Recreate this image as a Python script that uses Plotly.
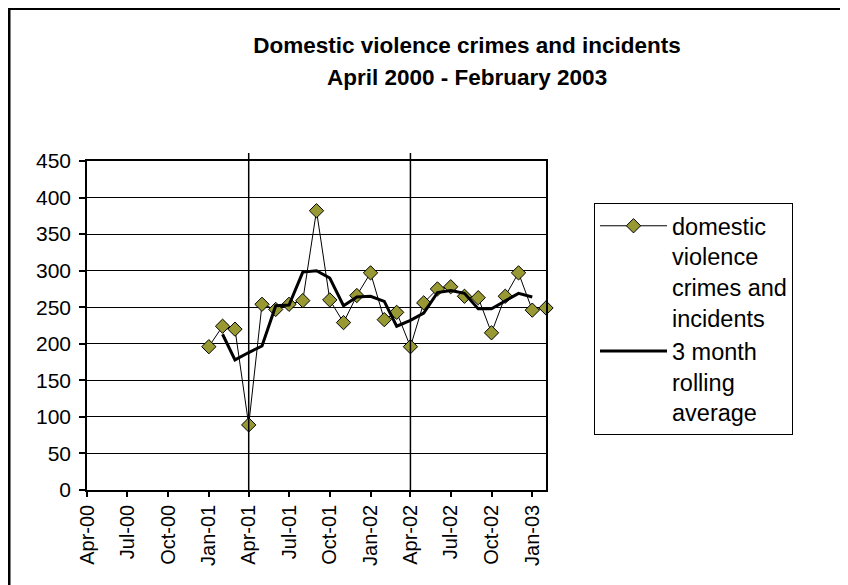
import plotly.graph_objects as go

# ---- data ----
months = ["2001-01-01", "2001-02-01", "2001-03-01", "2001-04-01", "2001-05-01", "2001-06-01",
          "2001-07-01", "2001-08-01", "2001-09-01", "2001-10-01", "2001-11-01", "2001-12-01",
          "2002-01-01", "2002-02-01", "2002-03-01", "2002-04-01", "2002-05-01", "2002-06-01",
          "2002-07-01", "2002-08-01", "2002-09-01", "2002-10-01", "2002-11-01", "2002-12-01",
          "2003-01-01", "2003-02-01"]
incidents = [196, 224, 220, 89, 254, 247, 254, 259, 382, 260, 229, 266,
             297, 233, 243, 196, 256, 275, 278, 265, 263, 215, 265, 297,
             246, 249]

avg_months = months[1:-1]
rolling_avg = [213, 178, 188, 197, 252, 253, 298, 300, 290, 252, 264, 265,
               258, 224, 232, 242, 270, 273, 269, 248, 248, 259, 269, 264]

tick_dates = ["2000-04-01", "2000-07-01", "2000-10-01", "2001-01-01", "2001-04-01", "2001-07-01",
              "2001-10-01", "2002-01-01", "2002-04-01", "2002-07-01", "2002-10-01", "2003-01-01"]
tick_labels = ["Apr-00", "Jul-00", "Oct-00", "Jan-01", "Apr-01", "Jul-01",
               "Oct-01", "Jan-02", "Apr-02", "Jul-02", "Oct-02", "Jan-03"]
divider_dates = ["2001-04-01", "2002-04-01"]

title_line1 = "Domestic violence crimes and incidents"
title_line2 = "April 2000 - February 2003"
series1_name = "domestic<br>violence<br>crimes and<br>incidents"
series2_name = "3 month<br>rolling<br>average"

# ---- layout geometry (page pixels; the page body adds an 8px offset) ----
OFF = 8
W, H = 848, 585
PL, PR, PT, PB = 87, 546, 161, 490   # plot area edges on the page
FW, FH = W - OFF, H - OFF            # figure size
L, T = PL - OFF, PT - OFF
R, B = FW - (PR - OFF), FH - (PB - OFF)
PW = PR - PL
PH = PB - PT


def px_x(p):
    return (p - PL) / PW


def px_y(p):
    return (PB - p) / PH


def cont_y(p):
    return 1 - (p - OFF) / FH


FONT = "Liberation Sans, Arial, sans-serif"

fig = go.Figure()
fig.add_trace(go.Scatter(
    x=months, y=incidents, name=series1_name, mode="lines+markers",
    line=dict(color="black", width=1),
    marker=dict(symbol="diamond", size=11, color="#999933", line=dict(color="black", width=1)),
    cliponaxis=False,
))
fig.add_trace(go.Scatter(
    x=avg_months, y=rolling_avg, name=series2_name, mode="lines",
    line=dict(color="black", width=3),
))

shapes = []
for d in divider_dates:
    shapes.append(dict(type="line", xref="x", yref="paper", x0=d, x1=d, y0=0, y1=px_y(153),
                       line=dict(color="black", width=1.5), layer="above"))
# outer chart frame (top and left edges visible)
shapes.append(dict(type="line", xref="paper", yref="paper", x0=px_x(OFF + 1), x1=px_x(OFF + 1),
                   y0=px_y(H + 5), y1=px_y(OFF), line=dict(color="black", width=3)))
shapes.append(dict(type="line", xref="paper", yref="paper", x0=px_x(OFF), x1=px_x(W + 5),
                   y0=px_y(OFF + 1), y1=px_y(OFF + 1), line=dict(color="black", width=2)))

fig.update_layout(
    width=FW, height=FH,
    margin=dict(l=L, r=R, t=T, b=B),
    paper_bgcolor="white", plot_bgcolor="white",
    font=dict(family=FONT, color="black"),
    title=dict(text=title_line1, x=px_x(467), xanchor="center", xref="paper",
               y=cont_y(45), yanchor="middle", yref="container",
               font=dict(family=FONT, size=22.5, color="black", weight="bold")),
    annotations=[dict(text=title_line2, x=px_x(467), xanchor="center", xref="paper",
                      y=px_y(78), yanchor="middle", yref="paper", showarrow=False,
                      font=dict(family=FONT, size=22.5, color="black", weight="bold"))],
    showlegend=True,
    legend=dict(x=px_x(594), y=px_y(203), xanchor="left", yanchor="top",
                bordercolor="black", borderwidth=1, bgcolor="white",
                font=dict(family=FONT, size=23.5, color="black"),
                valign="top", itemwidth=67, tracegroupgap=0),
    shapes=shapes,
    xaxis=dict(type="date", range=["2000-04-01", "2003-02-01"],
               tickvals=tick_dates, ticktext=tick_labels, tickangle=-90,
               tickfont=dict(family=FONT, size=20, color="black"),
               showgrid=False, zeroline=False,
               showline=True, linecolor="black", linewidth=1.5, mirror=True,
               ticks="outside", ticklen=5, tickcolor="black", tickwidth=1.5),
    yaxis=dict(range=[0, 450], dtick=50, tick0=0,
               tickfont=dict(family=FONT, size=21, color="black"),
               showgrid=True, gridcolor="black", gridwidth=1, zeroline=False,
               showline=True, linecolor="black", linewidth=1.5, mirror=True,
               ticks="outside", ticklen=6, tickcolor="black", tickwidth=1.5,
               ticklabelstandoff=4),
)

fig.write_html("out.html")
